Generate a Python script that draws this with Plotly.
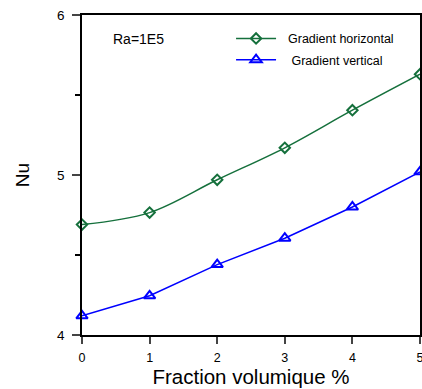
import plotly.graph_objects as go

fraction = [0, 1, 2, 3, 4, 5]
nu_horizontal = [4.69, 4.765, 4.97, 5.17, 5.405, 5.63]
nu_vertical = [4.12, 4.245, 4.44, 4.605, 4.80, 5.02]
x_ticks = [0, 1, 2, 3, 4, 5]
y_ticks = [4, 5, 6]

GREEN = "#15703c"
BLUE = "#0000ff"
FONT = "Liberation Sans, Arial, sans-serif"
PAD = "\u00a0\u00a0"

fig = go.Figure()
fig.add_trace(go.Scatter(
    x=fraction, y=nu_horizontal, mode="lines+markers",
    name=PAD + "Gradient horizontal", line=dict(color=GREEN, width=1.5, shape="spline"),
    marker=dict(symbol="diamond-open", size=8, color=GREEN, line=dict(width=2, color=GREEN)),
    legendgroup="a", cliponaxis=False,
))
fig.add_trace(go.Scatter(
    x=fraction, y=nu_vertical, mode="lines+markers",
    name=PAD + "\u00a0Gradient vertical", line=dict(color=BLUE, width=1.5),
    marker=dict(symbol="triangle-up-open", size=10, color=BLUE, line=dict(width=2, color=BLUE)),
    legendgroup="b", cliponaxis=False,
))

fig.update_layout(
    width=422, height=389,
    margin=dict(l=82, r=2, t=15, b=54, autoexpand=False),
    paper_bgcolor="white", plot_bgcolor="white",
    font=dict(family=FONT, color="black"),
    showlegend=True,
    legend=dict(x=0.441, y=0.9725, xanchor="left", yanchor="top",
                font=dict(size=12.5, family=FONT), bgcolor="rgba(0,0,0,0)",
                tracegroupgap=2, itemwidth=40),
    annotations=[dict(text="Ra=1E5", xref="paper", yref="paper", x=0.0858, y=0.925,
                      xanchor="left", yanchor="middle", showarrow=False,
                      font=dict(size=14, family=FONT))],
)
fig.update_xaxes(
    range=[0, 5], tickvals=x_ticks, ticks="outside", ticklen=7, tickwidth=1.5,
    showline=True, linecolor="black", linewidth=1.5, mirror=True, automargin=False,
    showgrid=False, zeroline=False, tickfont=dict(size=12.5), ticklabelstandoff=3,
    ticklabeloverflow="allow",
    title=dict(text="Fraction volumique %", font=dict(size=20.5), standoff=6),
)
fig.update_yaxes(
    range=[4, 6], tickvals=y_ticks, ticks="outside", ticklen=8, tickwidth=1.5,
    showline=True, linecolor="black", linewidth=1.5, mirror=True, automargin=False,
    showgrid=False, zeroline=False, tickfont=dict(size=13.5), ticklabelstandoff=5,
    minor=dict(dtick=0.5, ticks="outside", ticklen=5, tickwidth=1.5, tickcolor="black"),
    title=dict(text="Nu", font=dict(size=19), standoff=22),
)

fig.write_html("out.html", config={"displayModeBar": False},
               post_script="document.body.style.margin='0';document.body.style.overflow='hidden';")
